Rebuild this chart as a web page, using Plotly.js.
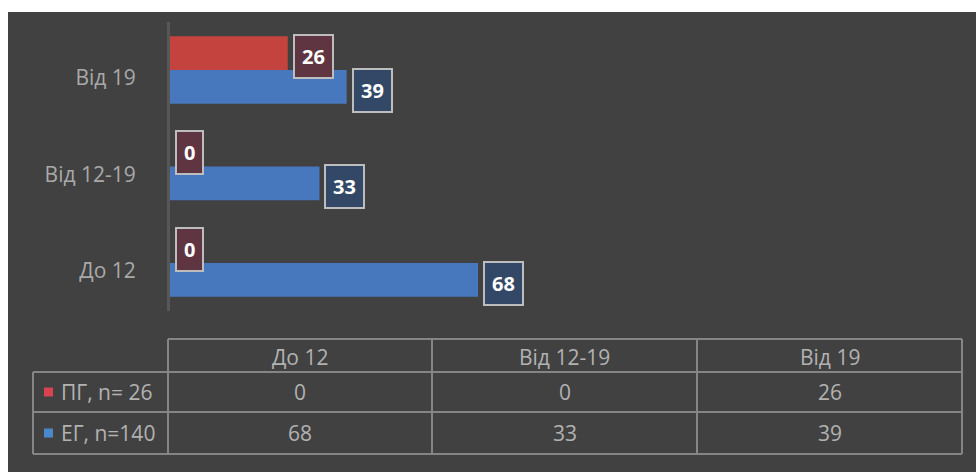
<!DOCTYPE html>
<html>
<head>
<meta charset="utf-8">
<script src="https://cdn.plot.ly/plotly-3.0.1.min.js"></script>
<style>html,body{margin:0;padding:0;background:#fff;}#chart{width:976px;height:472px;}</style>
</head>
<body>
<div id="chart"></div>
<script>
// ---- data ----
const categories = ['До 12', 'Від 12-19', 'Від 19'];
const seriesNames = ['ПГ, n= 26', 'ЕГ, n=140'];
const pgValues = [0, 0, 26];
const egValues = [68, 33, 39];

// ---- styling ----
const W = 976, H = 472;
const FONT = 'Open Sans, Liberation Sans, sans-serif';
const RED = '#c4433f', BLUE = '#4778bd';
const RED_BOX = '#5e3540', BLUE_BOX = '#334866';
const TXT = '#b2b2b2';
const LINE = '#858585';
const px = x => x / W;
const py = y => 1 - y / H;

const traces = [
  {type: 'bar', orientation: 'h', name: seriesNames[1], y: categories, x: egValues,
   marker: {color: BLUE}, hoverinfo: 'x+y'},
  {type: 'bar', orientation: 'h', name: seriesNames[0], y: categories, x: pgValues,
   marker: {color: RED}, hoverinfo: 'x+y'}
];

const annotations = [];
const shapes = [];

// background panel
shapes.push({type: 'rect', xref: 'paper', yref: 'paper', x0: px(8), x1: px(976), y0: py(472), y1: py(12),
  fillcolor: '#414141', line: {width: 0}, layer: 'below'});

// data labels
function addLabels(vals, yshift, fill) {
  vals.forEach((v, i) => {
    annotations.push({x: v, y: categories[i], xref: 'x', yref: 'y', text: String(v),
      showarrow: false, xanchor: 'left', yanchor: 'middle', xshift: 5, yshift: yshift,
      font: {family: FONT, size: 20, color: '#ffffff', weight: 'bold'},
      bgcolor: fill, bordercolor: '#bdbdbd', borderwidth: 2, borderpad: 7});
  });
}
addLabels(pgValues, 13.5, RED_BOX);
addLabels(egValues, -20.5, BLUE_BOX);

// data table
const colX = [168, 432, 697, 962];
const rowY = [339, 372, 412, 454];
const leftX = 33;
function hline(y, x0, x1) {
  shapes.push({type: 'line', xref: 'paper', yref: 'paper', x0: px(x0), x1: px(x1), y0: py(y), y1: py(y),
    line: {color: LINE, width: 2}});
}
function vline(x, y0, y1) {
  shapes.push({type: 'line', xref: 'paper', yref: 'paper', x0: px(x), x1: px(x), y0: py(y0), y1: py(y1),
    line: {color: LINE, width: 2}});
}
hline(rowY[0], colX[0], colX[3]);
for (let r = 1; r < 4; r++) hline(rowY[r], leftX, colX[3]);
vline(leftX, rowY[1], rowY[3]);
colX.forEach(x => vline(x, rowY[0], rowY[3]));

function cellText(text, cx, cy, anchor) {
  annotations.push({xref: 'paper', yref: 'paper', x: px(cx), y: py(cy), text: text, showarrow: false,
    xanchor: anchor || 'center', yanchor: 'middle', font: {family: FONT, size: 21, color: TXT}});
}
categories.forEach((c, i) => cellText(c, (colX[i] + colX[i + 1]) / 2, (rowY[0] + rowY[1]) / 2 + 1));
const rows = [pgValues, egValues];
rows.forEach((vals, r) => {
  const cy = (rowY[r + 1] + rowY[r + 2]) / 2;
  vals.forEach((v, i) => cellText(String(v), (colX[i] + colX[i + 1]) / 2, cy));
  shapes.push({type: 'rect', xref: 'paper', yref: 'paper', x0: px(44), x1: px(53), y0: py(cy + 4.5), y1: py(cy - 4.5),
    fillcolor: r === 0 ? '#d8434f' : '#4a88cc', line: {width: 0}});
  cellText(seriesNames[r], 59, cy, 'left');
});

const layout = {
  width: W, height: H,
  margin: {l: 0, r: 0, t: 0, b: 0, pad: 0},
  paper_bgcolor: '#ffffff',
  plot_bgcolor: 'rgba(0,0,0,0)',
  showlegend: false,
  barmode: 'group',
  bargap: 0.3,
  bargroupgap: 0,
  font: {family: FONT, color: TXT},
  xaxis: {domain: [px(170), px(962)], range: [0, (962 - 170) / 4.53], showgrid: false, zeroline: false,
    showticklabels: false, ticks: '', showline: false, fixedrange: true},
  yaxis: {domain: [py(311.25), py(21.75)], type: 'category', categoryorder: 'array', categoryarray: categories,
    showgrid: false, zeroline: false, showline: true, linecolor: '#575757', linewidth: 3,
    ticks: '', ticklabelstandoff: 27, ticklabelshift: 8,
    tickfont: {family: FONT, size: 21, color: '#a9a9a9'}, fixedrange: true},
  shapes: shapes,
  annotations: annotations
};

Plotly.newPlot('chart', traces, layout, {displayModeBar: false, staticPlot: true});
</script>
</body>
</html>
